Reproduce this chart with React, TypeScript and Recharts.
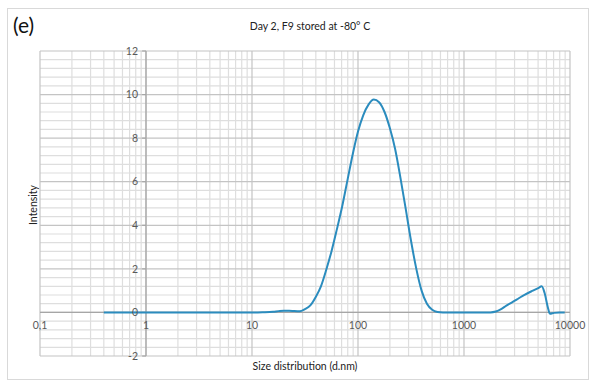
import React from "react";
import { LineChart, Line, XAxis, YAxis, ReferenceLine, ReferenceDot } from "recharts";

// hydrodynamic diameter (d.nm) and intensity (%)
const sizes = [
  0.4, 1, 3, 8, 10, 12.6, 15.8, 17.8, 20, 22.4, 25.1, 28.2, 31.6, 35.5, 39.8, 44.7, 50.1, 56.2,
  63.1, 70.8, 79.4, 89.1, 100, 112, 126, 141, 158, 178, 200, 224, 251, 282, 316, 355, 398, 447,
  501, 562, 631, 800, 1200, 1778, 1995, 2239, 2512, 2818, 3162, 3548, 3981, 4467, 5012, 5410,
  5754, 6166, 6457, 7079, 7943, 8913,
];
const intensity = [
  0, 0, 0, 0, 0, 0.01, 0.03, 0.06, 0.08, 0.08, 0.06, 0.05, 0.15, 0.32, 0.7, 1.2, 1.95, 2.8,
  3.8, 4.85, 6.05, 7.25, 8.3, 9.05, 9.55, 9.77, 9.65, 9.2, 8.45, 7.5, 6.2, 4.75, 3.3, 2.0, 1.0, 0.4,
  0.12, 0.02, 0, 0, 0, 0, 0.04, 0.15, 0.31, 0.45, 0.6, 0.75, 0.88, 1.0, 1.12, 1.2,
  0.9, 0.25, -0.06, -0.02, 0, 0,
];

const xTicks = [0.1, 1, 10, 100, 1000, 10000];
const xTickLabels = ["0,1", "1", "10", "100", "1000", "10000"];
const yTicks = [-2, 0, 2, 4, 6, 8, 10, 12];

const data = sizes.map((s, i) => ({ size: s, v: intensity[i] }));

// log-paper grid: 2..9 inside every decade, every 0.4 on y
const xMinor = xTicks.slice(0, -1).flatMap((d) => [2, 3, 4, 5, 6, 7, 8, 9].map((k) => k * d));
const yMinor: number[] = [];
for (let i = 0; i <= 35; i++) {
  const v = Math.round((-2 + i * 0.4) * 10) / 10;
  if (!yTicks.includes(v)) yMinor.push(v);
}

const FONT = "Lato, 'Open Sans', sans-serif";
const LABEL = "#595959";
const MINOR = "#dedede";
const MAJOR = "#c4c4c4";
const AXIS = "#a6a6a6";
const BLUE = "#2b8cbe";

export default function App() {
  return (
    <div style={{ position: "absolute", left: 0, top: 0, width: 594, height: 383, background: "#fff", fontFamily: FONT }}>
      <div style={{ position: "absolute", left: 7, top: 8, width: 582, height: 372, border: "1px solid #d9d9d9", boxSizing: "border-box" }} />
      <div style={{ position: "absolute", left: 13, top: 12, fontSize: 21, color: "#111" }}>(e)</div>
      <div style={{ position: "absolute", left: 0, width: 620, top: 20, textAlign: "center", fontSize: 10.5, color: "#222" }}>
        Day 2, F9 stored at -80° C
      </div>
      <div style={{ position: "absolute", left: 0, width: 610, top: 360, textAlign: "center", fontSize: 10.5, color: "#222" }}>
        Size distribution (d.nm)
      </div>
      <div style={{ position: "absolute", left: 33, top: 205, transform: "translate(-50%, -50%) rotate(-90deg)", fontSize: 10.5, color: "#222" }}>
        Intensity
      </div>
      <div style={{ position: "absolute", left: 0, top: 0 }}>
        <LineChart width={594} height={383} data={data} margin={{ top: 51, left: 40, right: 24, bottom: 27 }}>
          <XAxis dataKey="size" type="number" scale="log" domain={[0.1, 10000]} allowDataOverflow hide />
          <YAxis type="number" domain={[-2, 12]} allowDataOverflow hide />
          {xMinor.map((x) => (
            <ReferenceLine key={"xm" + x} x={x} stroke={MINOR} strokeWidth={1.2} />
          ))}
          {yMinor.map((y) => (
            <ReferenceLine key={"ym" + y} y={y} stroke={MINOR} strokeWidth={1.2} />
          ))}
          {xTicks.map((x) => (
            <ReferenceLine key={"xM" + x} x={x} stroke={MAJOR} strokeWidth={1.2} />
          ))}
          {yTicks.map((y) => (
            <ReferenceLine key={"yM" + y} y={y} stroke={MAJOR} strokeWidth={1.2} />
          ))}
          <ReferenceLine x={1} stroke={AXIS} strokeWidth={1.2} />
          <ReferenceLine y={0} stroke={AXIS} strokeWidth={1.2} />
          {yTicks.map((y) => (
            <ReferenceLine key={"yt" + y} segment={[{ x: 0.92, y }, { x: 1, y }]} stroke={AXIS} strokeWidth={1.2} ifOverflow="visible" />
          ))}
          <Line type="monotone" dataKey="v" stroke={BLUE} strokeWidth={2} dot={false} isAnimationActive={false} />
          {yTicks.map((y) => (
            <ReferenceDot key={"yl" + y} x={1} y={y} r={0} fill="none" stroke="none"
              label={{ value: String(y), position: "left", offset: 8, fill: LABEL, fontSize: 10.5, fontFamily: FONT }} />
          ))}
          {xTicks.map((x, i) => (
            <ReferenceDot key={"xl" + x} x={x} y={0} r={0} fill="none" stroke="none" ifOverflow="visible"
              label={{ value: xTickLabels[i], position: "bottom", offset: 9, fill: LABEL, fontSize: 10.5, fontFamily: FONT }} />
          ))}
        </LineChart>
      </div>
    </div>
  );
}
